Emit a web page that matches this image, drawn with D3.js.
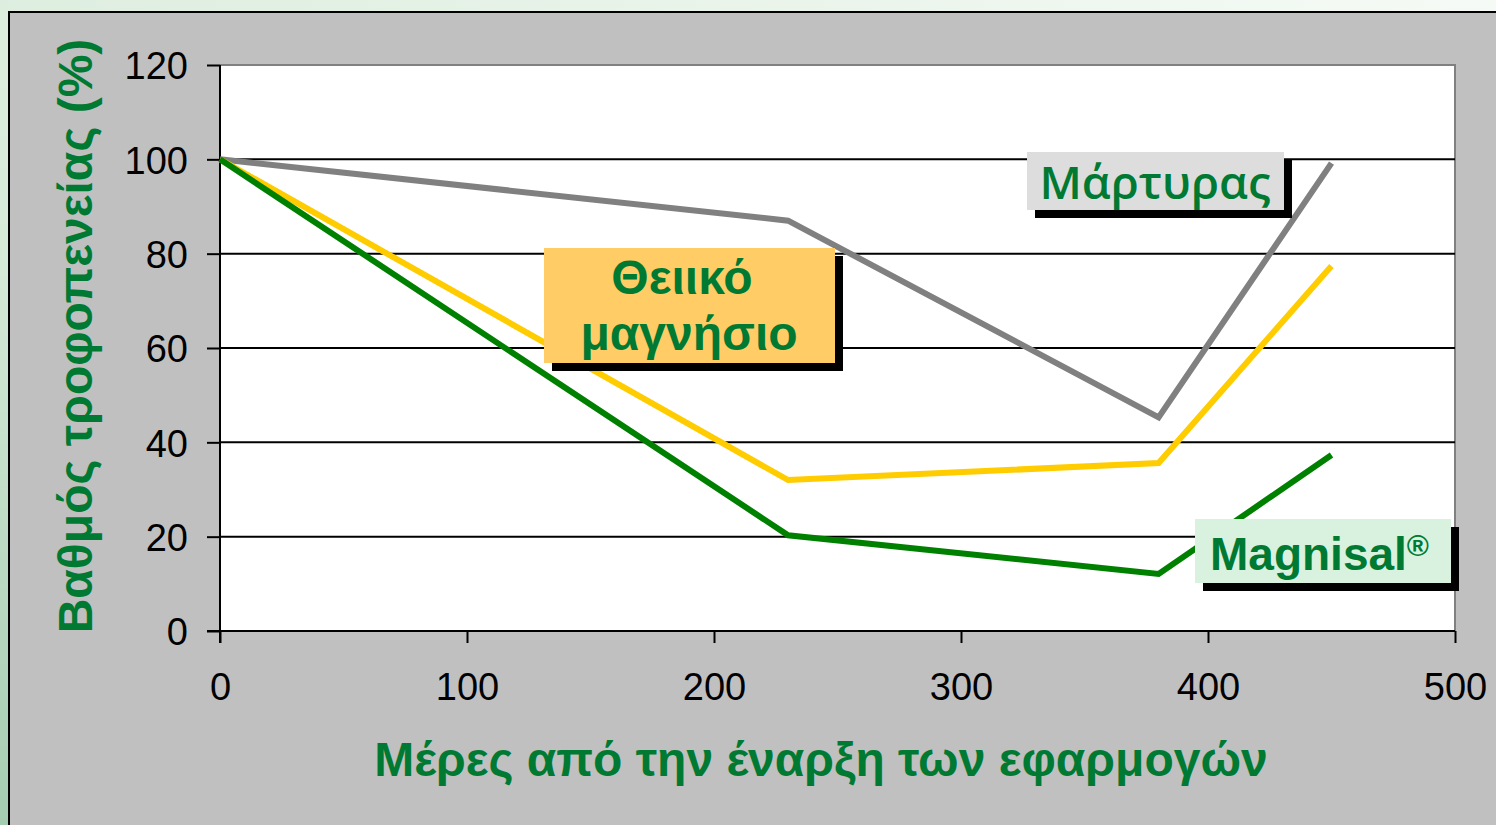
<!DOCTYPE html>
<html><head><meta charset="utf-8">
<script src="https://cdn.jsdelivr.net/npm/d3@7/dist/d3.min.js"></script>
<style>html,body{margin:0;padding:0;overflow:hidden;}</style>
</head><body>
<svg id="c" width="1496" height="825"></svg>
<script>
const days = [0, 230, 380, 450];
const martyras = [100, 87, 45.3, 99.2];
const theiiko = [100, 32, 35.6, 77.4];
const magnisal = [100, 20.3, 12.1, 37.3];
const xTicks = [0, 100, 200, 300, 400, 500];
const yTicks = [0, 20, 40, 60, 80, 100, 120];
const seriesNames = ["Μάρτυρας", "Θειικό μαγνήσιο", "Magnisal"];
const xTitle = "Μέρες από την έναρξη των εφαρμογών";
const yTitle = "Βαθμός τροφοπενείας (%)";

const svg = d3.select("#c");
const defs = svg.append("defs");
const g1 = defs.append("linearGradient").attr("id","bgg").attr("x1",0).attr("y1",1).attr("x2",1).attr("y2",0);
g1.append("stop").attr("offset",0).attr("stop-color","#a4ccb0");
g1.append("stop").attr("offset",0.35).attr("stop-color","#d6ead8");
g1.append("stop").attr("offset",1).attr("stop-color","#f6faf6");
svg.append("rect").attr("width",1496).attr("height",825).attr("fill","url(#bgg)");

// outer panel
svg.append("rect").attr("x",9).attr("y",12).attr("width",1500).attr("height",830)
  .attr("fill","#c0c0c0").attr("stroke","#000").attr("stroke-width",2);

const x = d3.scaleLinear().domain([0,500]).range([220,1455]);
const y = d3.scaleLinear().domain([0,120]).range([631,65]);

// plot area
svg.append("rect").attr("x",x(0)).attr("y",y(120)).attr("width",x(500)-x(0)).attr("height",y(0)-y(120))
  .attr("fill","#fff");
svg.append("path").attr("d",`M${x(0)},${y(120)}H${x(500)}V${y(0)}`).attr("fill","none")
  .attr("stroke","#808080").attr("stroke-width",2);

// gridlines
svg.append("g").selectAll("line").data(yTicks.filter(t=>t>0&&t<120)).join("line")
  .attr("x1",x(0)).attr("x2",x(500)).attr("y1",d=>y(d)).attr("y2",d=>y(d))
  .attr("stroke","#000").attr("stroke-width",2);

// axes
const yAxis = d3.axisLeft(y).tickValues(yTicks).tickSize(13).tickPadding(19);
const xAxis = d3.axisBottom(x).tickValues(xTicks).tickSize(12).tickPadding(30);
const ya = svg.append("g").attr("transform",`translate(${x(0)},0)`).call(yAxis);
const xa = svg.append("g").attr("transform",`translate(0,${y(0)})`).call(xAxis);
[ya,xa].forEach(a=>{
  a.select(".domain").attr("stroke","#000").attr("stroke-width",2);
  a.selectAll(".tick line").attr("stroke","#000").attr("stroke-width",2);
  a.selectAll("text").attr("font-family","Liberation Sans, Arial, sans-serif").attr("font-size",38).attr("fill","#000");
});
ya.select(".domain").attr("d",`M0,${y(120)}V${y(0)+12}`);
xa.select(".domain").attr("d",`M${x(0)-13},0H${x(500)}`);
ya.selectAll("text").attr("dy","0.36em");
xa.selectAll("text").attr("dy","0.71em");

// lines
const line = d3.line().x((d,i)=>x(days[i])).y(d=>y(d));
const cols = ["#808080","#ffcc00","#008000"];
[martyras, theiiko, magnisal].forEach((s,i)=>{
  svg.append("path").attr("d",line(s)).attr("fill","none").attr("stroke",cols[i])
    .attr("stroke-width",6).attr("stroke-linejoin","miter");
});

// labels with shadow
function box(bx,by,bw,bh,fill){
  svg.append("rect").attr("x",bx+8).attr("y",by+8).attr("width",bw).attr("height",bh).attr("fill","#000");
  svg.append("rect").attr("x",bx).attr("y",by).attr("width",bw).attr("height",bh).attr("fill",fill);
}
const green = "#007a33";
const arial = "Liberation Sans, Arial, sans-serif";
box(1027,152,257,58,"#dddddd");
svg.append("text").attr("x",1155).attr("y",199).attr("text-anchor","middle")
  .attr("font-family","Open Sans, sans-serif").attr("font-weight",600).attr("font-size",46)
  .attr("fill",green).text(seriesNames[0]);

box(544,248,291,115,"#ffcc66");
const parts = seriesNames[1].split(" ");
svg.append("text").attr("x",682).attr("y",294).attr("text-anchor","middle")
  .attr("font-family",arial).attr("font-weight","bold").attr("font-size",48)
  .attr("fill",green).text(parts[0]);
svg.append("text").attr("x",689).attr("y",350).attr("text-anchor","middle")
  .attr("font-family",arial).attr("font-weight","bold").attr("font-size",48)
  .attr("fill",green).text(parts[1]);

box(1195,519,256,64,"#d9f2e0");
const mt = svg.append("text").attr("x",1210).attr("y",570)
  .attr("font-family",arial).attr("font-weight","bold").attr("font-size",46)
  .attr("fill",green);
mt.append("tspan").text(seriesNames[2]);
mt.append("tspan").attr("font-size",30).attr("dy",-14).text("®");

// axis titles
svg.append("text").attr("transform","translate(92,336) rotate(-90)").attr("text-anchor","middle")
  .attr("font-family",arial).attr("font-weight","bold").attr("font-size",48)
  .attr("fill",green).text(yTitle);
svg.append("text").attr("x",821).attr("y",776).attr("text-anchor","middle")
  .attr("font-family",arial).attr("font-weight","bold").attr("font-size",48)
  .attr("fill",green).text(xTitle);
</script>
</body></html>
